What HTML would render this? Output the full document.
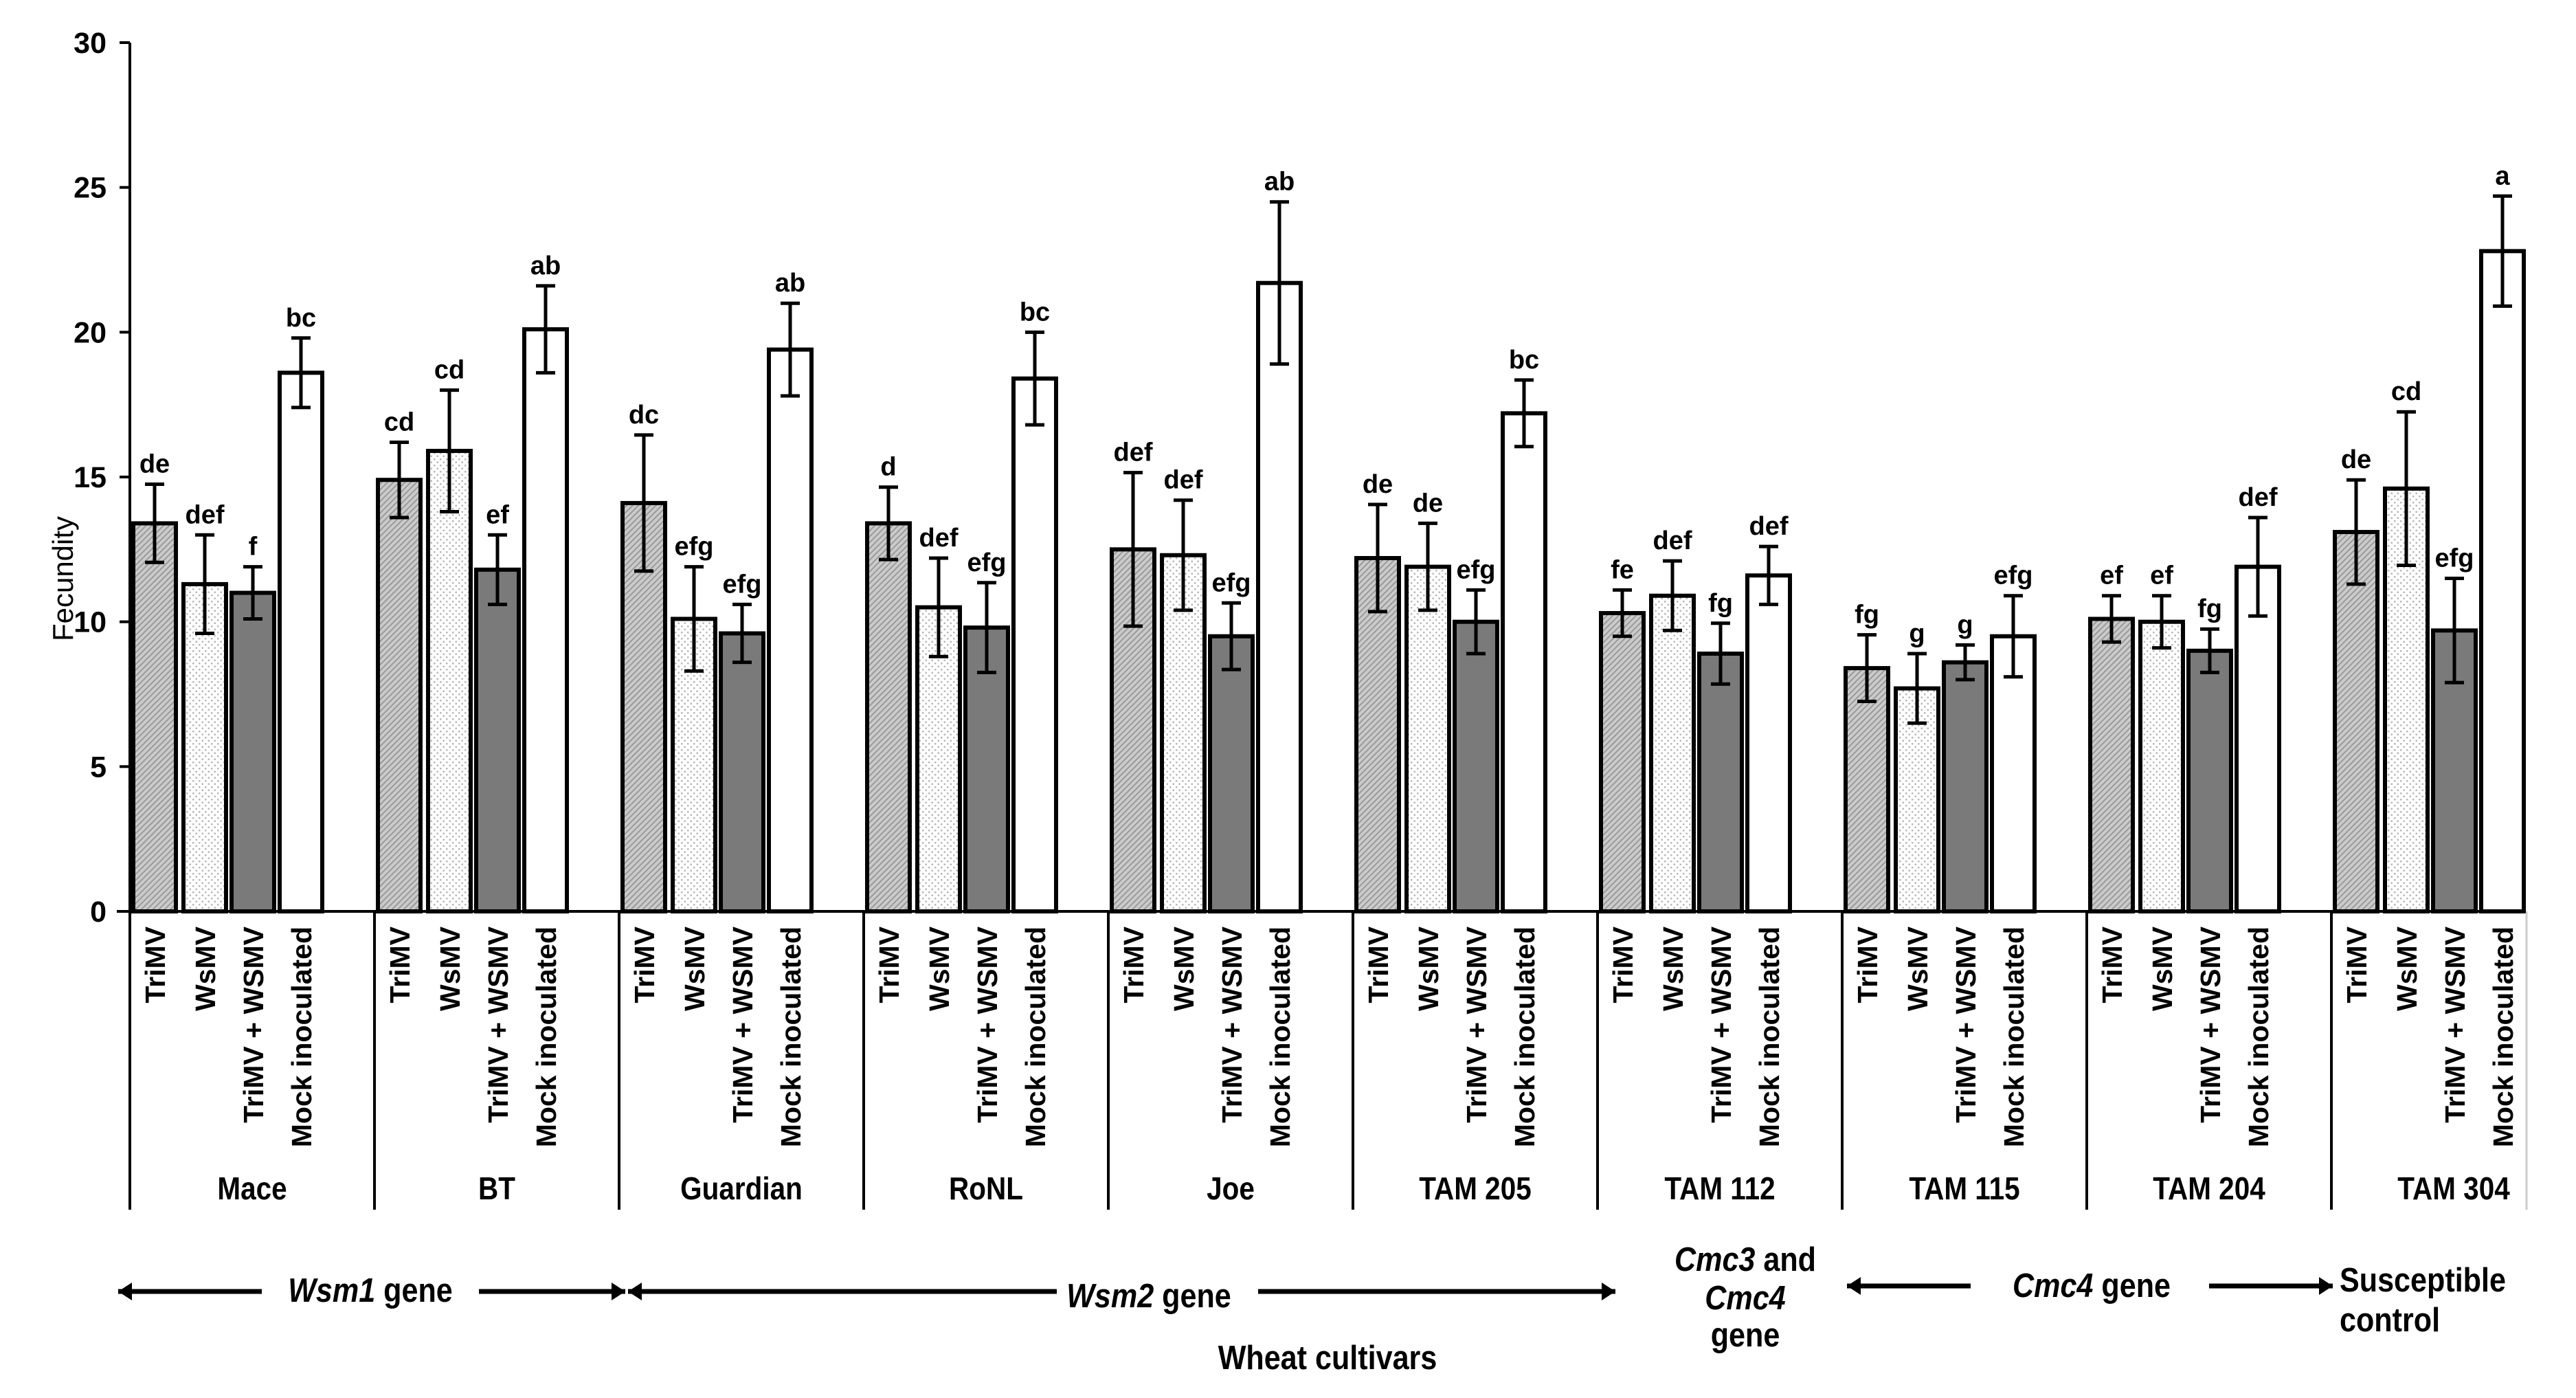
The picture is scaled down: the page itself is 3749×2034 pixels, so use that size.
<!DOCTYPE html>
<html><head><meta charset="utf-8"><style>
html,body{margin:0;padding:0;background:#fff}
svg{display:block}
text{font-family:"Liberation Sans",Arial,sans-serif;fill:#000}
.b{font-weight:bold}
.n{font-family:"Liberation Sans",sans-serif;font-weight:bold}
</style></head><body>
<svg id="chart" width="3749" height="2034" viewBox="0 0 3749 2034" xmlns="http://www.w3.org/2000/svg">
<defs>
<pattern id="hatch" patternUnits="userSpaceOnUse" width="6" height="6" patternTransform="rotate(45)">
<rect width="6" height="6" fill="#cbcbcb"/><rect width="2" height="6" fill="#9a9a9a"/>
</pattern>
<pattern id="dots" patternUnits="userSpaceOnUse" width="9" height="9">
<rect width="9" height="9" fill="#fff"/><rect x="1" y="1" width="2.5" height="2.5" fill="#b8b8b8"/><rect x="5.5" y="5.5" width="2.5" height="2.5" fill="#b8b8b8"/>
</pattern>
</defs>
<g id="plot"></g>
</svg>
<script>
const cultivars = ["Mace","BT","Guardian","RoNL","Joe","TAM 205","TAM 112","TAM 115","TAM 204","TAM 304"];
const treatments = ["TriMV","WsMV","TriMV + WSMV","Mock inoculated"];
const triMV = [13.4,14.9,14.1,13.4,12.5,12.2,10.3,8.4,10.1,13.1];
const wsMV = [11.3,15.9,10.1,10.5,12.3,11.9,10.9,7.7,10.0,14.6];
const combo = [11.0,11.8,9.6,9.8,9.5,10.0,8.9,8.6,9.0,9.7];
const mock = [18.6,20.1,19.4,18.4,21.7,17.2,11.6,9.5,11.9,22.8];
const triMVErr = [1.35,1.3,2.35,1.25,2.65,1.85,0.8,1.15,0.8,1.8];
const wsMVErr = [1.7,2.1,1.8,1.7,1.9,1.5,1.2,1.2,0.9,2.65];
const comboErr = [0.9,1.2,1.0,1.55,1.15,1.1,1.05,0.6,0.75,1.8];
const mockErr = [1.2,1.5,1.6,1.6,2.8,1.15,1.0,1.4,1.7,1.9];
const letTriMV = ["de","cd","dc","d","def","de","fe","fg","ef","de"];
const letWsMV = ["def","cd","efg","def","def","de","def","g","ef","cd"];
const letCombo = ["f","ef","efg","efg","efg","efg","fg","g","fg","efg"];
const letMock = ["bc","ab","ab","bc","ab","bc","def","efg","def","a"];
const yTicks = [0,5,10,15,20,25,30];

const NS="http://www.w3.org/2000/svg";
const g=document.getElementById('plot');
function mk(tag,attrs,txt){const e=document.createElementNS(NS,tag);for(const k in attrs)e.setAttribute(k,attrs[k]);if(txt!==undefined)e.textContent=txt;g.appendChild(e);return e;}
const X0=189, GW=356, Y0=1326, YT=62, YMAX=30;
function y(v){return Y0-v*(Y0-YT)/YMAX;}
function gx(i){return X0+i*GW;}
const offs=[5,78,148,218], BW=62;
const series=[triMV,wsMV,combo,mock], errs=[triMVErr,wsMVErr,comboErr,mockErr], lets=[letTriMV,letWsMV,letCombo,letMock];
const fills=["url(#hatch)","url(#dots)","#7a7a7a","#fff"];
const snames=["trimv","wsmv","trimv-wsmv","mock"];
const SX=0.88;

let e=mk('line',{x1:X0,y1:YT,x2:X0,y2:Y0,stroke:'#000','stroke-width':4});


yTicks.forEach(t=>{
  let l=mk('line',{x1:X0-15,y1:y(t),x2:X0,y2:y(t),stroke:'#000','stroke-width':4});
  
  
  let tx=mk('text',{x:155,y:y(t)+15,'text-anchor':'end','font-size':43,class:'b'},String(t));
  
  
});
e=mk('text',{x:0,y:0,'font-size':42,'text-anchor':'middle',transform:'translate(106,842) rotate(-90)'},'Fecundity');



cultivars.forEach((c,i)=>{
  series.forEach((s,k)=>{
    const x=gx(i)+offs[k], v=s[i], er=errs[k][i], cx=x+BW/2;
    let r=mk('rect',{x:x,y:y(v),width:BW,height:Y0-y(v),fill:fills[k],stroke:'#000','stroke-width':6});
    
    
    let eb=mk('path',{d:`M${cx-14},${y(v+er)}H${cx+14}M${cx},${y(v+er)}V${y(v-er)}M${cx-14},${y(v-er)}H${cx+14}`,stroke:'#000','stroke-width':5,fill:'none'});
    
    
    let lt=mk('text',{x:cx,y:y(v+er)-17,'text-anchor':'middle','font-size':38,class:'b'},lets[k][i]);
    
    
    let tl=mk('text',{x:0,y:0,'text-anchor':'end','font-size':41,class:'b',transform:`translate(${cx+15},1348) rotate(-90)`},treatments[k]);
    
    
  });
  let sep=mk('line',{x1:gx(i),y1:Y0,x2:gx(i),y2:1760,stroke:'#000','stroke-width':4});
  
  
  let cl=mk('text',{x:0,y:0,'text-anchor':'middle','font-size':46,class:'n',transform:`translate(${gx(i)+178},1745) scale(${SX},1)`},c);
  
  
});
e=mk('line',{x1:3677,y1:Y0,x2:3677,y2:1760,stroke:'#ccc','stroke-width':3});


e=mk('line',{x1:170,y1:Y0,x2:3676,y2:Y0,stroke:'#000','stroke-width':4});



function arrow(x1,x2,yy,head){
  let p=mk('line',{x1:x1,y1:yy,x2:x2,y2:yy,stroke:'#000','stroke-width':7});
  
  
  let d = head==='l' ? `M${x1},${yy} l20,-13 v26 z` : `M${x2},${yy} l-20,-13 v26 z`;
  let h=mk('path',{d:d,fill:'#000'});
  
  
}
arrow(172,381,1879,'l'); arrow(697,910,1879,'r');
arrow(914,1538,1879,'l'); arrow(1831,2351,1879,'r');
arrow(2688,2868,1871,'l'); arrow(3215,3395,1871,'r');

function label(x,yy,html,name,anchor){
  const t=document.createElementNS(NS,'text');
  t.setAttribute('x',0);t.setAttribute('y',0);t.setAttribute('font-size',49);
  t.setAttribute('transform',`translate(${x},${yy}) scale(${SX},1)`);
  t.setAttribute('class','n');t.setAttribute('text-anchor',anchor||'middle');
  t.innerHTML=html;g.appendChild(t);
  
  
}
label(539,1894,'<tspan font-style="italic">Wsm1</tspan> gene','wsm1-gene-label');
label(1672,1902,'<tspan font-style="italic">Wsm2</tspan> gene','wsm2-gene-label');
label(2540,1849,'<tspan font-style="italic">Cmc3</tspan> and','cmc3-cmc4-label');
label(2540,1905,'<tspan font-style="italic">Cmc4</tspan>','cmc3-cmc4-label');
label(2540,1959,'gene','cmc3-cmc4-label');
label(3044,1887,'<tspan font-style="italic">Cmc4</tspan> gene','cmc4-gene-label');
label(3405,1879,'Susceptible','susceptible-control-label','start');
label(3405,1937,'control','susceptible-control-label','start');
label(1932,1992,'Wheat cultivars','x-axis-title');
</script>
</body></html>
